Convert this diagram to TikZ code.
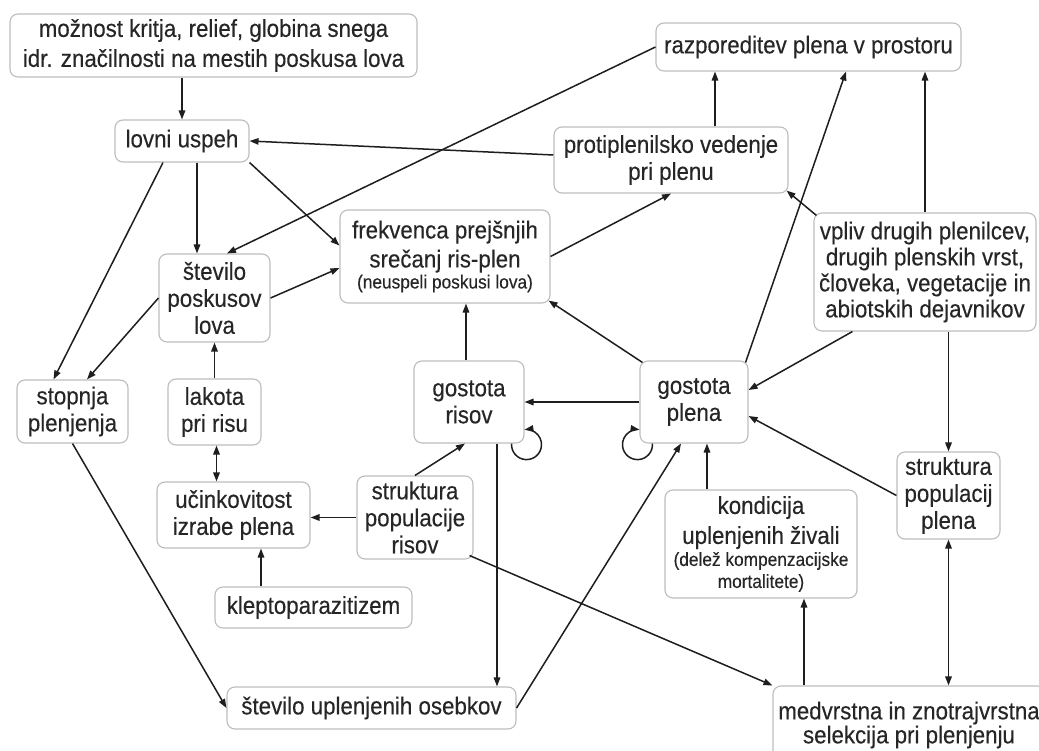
\documentclass[tikz,border=0pt]{standalone}
\usepackage{fontspec}
\setmainfont{Liberation Sans}[FakeStretch=0.91,FakeBold=0.25]
\usetikzlibrary{arrows.meta}
\definecolor{boxline}{HTML}{BDBDBD}
\definecolor{ink}{HTML}{1E1E1E}
\definecolor{txt}{HTML}{262626}
\newcommand\smalltxt{\fontsize{19}{22}\selectfont}
\begin{document}
\begin{tikzpicture}[x=1pt,y=-1pt,
  box/.style={draw=boxline, line width=1.1pt, rounded corners=8pt, fill=white, inner sep=0pt,
    align=center, text=txt, font=\fontsize{24.5}{27}\selectfont},
  arr/.style={draw=ink, line width=1.5pt, -{Triangle[length=9pt,width=6.5pt]}},
  darr/.style={draw=ink, line width=1.5pt, {Triangle[length=9pt,width=6.5pt]}-{Triangle[length=9pt,width=6.5pt]}}]
\useasboundingbox (0,0) rectangle (1039,751);
\fill[white] (0,0) rectangle (1039,751);
\clip (0,0) rectangle (1039,751);

\node[box, minimum width=407pt, minimum height=63pt, font=\fontsize{24.5}{30}\selectfont] (mozn) at (213.5,45.5) {možnost kritja, relief, globina snega\\idr. značilnosti na mestih poskusa lova};
\node[box, minimum width=134pt, minimum height=42pt] (lovni) at (182,141) {lovni uspeh};
\node[box, minimum width=305pt, minimum height=48pt] (razp) at (808.5,47) {razporeditev plena v prostoru};
\node[box, minimum width=234pt, minimum height=66pt] (proti) at (671,160) {protiplenilsko vedenje\\pri plenu};
\node[box, minimum width=210pt, minimum height=93pt] (frek) at (445,256.5) {frekvenca prejšnjih\\[2pt]srečanj ris-plen\\[-6pt]{\smalltxt (neuspeli poskusi lova)}};
\node[box, minimum width=111pt, minimum height=88pt] (stpos) at (214.5,298) {število\\poskusov\\lova};
\node[box, minimum width=222pt, minimum height=118pt, font=\fontsize{24.5}{26}\selectfont] (vpliv) at (925,272) {vpliv drugih plenilcev,\\drugih plenskih vrst,\\človeka, vegetacije in\\abiotskih dejavnikov};
\node[box, minimum width=111pt, minimum height=63pt] (stopnja) at (72.5,411.5) {stopnja\\plenjenja};
\node[box, minimum width=93pt, minimum height=66pt] (lakota) at (214.5,412) {lakota\\pri risu};
\node[box, minimum width=110pt, minimum height=82pt] (gris) at (469,402) {gostota\\risov};
\node[box, minimum width=108pt, minimum height=82pt] (gplena) at (694,402) {gostota\\plena};
\node[box, minimum width=153pt, minimum height=66pt] (uc) at (233.5,515) {učinkovitost\\izrabe plena};
\node[box, minimum width=116pt, minimum height=83pt] (strris) at (415,517.5) {struktura\\populacije\\risov};
\node[box, minimum width=192pt, minimum height=108pt] (kond) at (761,544) {kondicija\\[3pt]uplenjenih živali\\[-5pt]{\smalltxt (delež kompenzacijske}\\[-5pt]{\smalltxt mortalitete)}};
\node[box, minimum width=103pt, minimum height=87pt] (strplena) at (948.5,495.5) {struktura\\populacij\\plena};
\node[box, minimum width=197pt, minimum height=41pt] (klepto) at (313.5,607.5) {kleptoparazitizem};
\node[box, minimum width=289pt, minimum height=42pt] (stupl) at (371.5,708) {število uplenjenih osebkov};
\node[box, minimum width=272pt, minimum height=78pt, font=\fontsize{24.5}{24}\selectfont] (medv) at (909,725) {medvrstna in znotrajvrstna\\selekcija pri plenjenju};

\draw[arr] (lovni.north |- mozn.south) -- (lovni.north);
\draw[arr] ([xshift=15pt]lovni.south) -- ([xshift=15pt]lovni.south |- stpos.north);
\draw[arr] ([xshift=-19pt]lovni.south) -- ([xshift=-19pt]stopnja.north);
\draw[arr] (lovni.south east) -- ([yshift=11pt]frek.west);
\draw[arr] ([yshift=5pt]proti.west) -- (lovni.east);
\draw[arr] (razp.west) -- ([xshift=12.5pt]stpos.north);
\draw[arr] (stpos.west) -- ([xshift=14.5pt]stopnja.north);
\draw[arr] (stpos.east) -- ([yshift=-11.5pt]frek.west);
\draw[arr] (lakota.north) -- (stpos.south);
\draw[darr] ([xshift=2pt]lakota.south) -- ([xshift=2pt]lakota.south |- uc.north);
\draw[arr] ([xshift=-52.5pt]klepto.north) -- ([xshift=-52.5pt]klepto.north |- uc.south);
\draw[arr] (strris.west) -- (strris.west -| uc.east);
\draw[arr] (strris.north) -- ([xshift=-4pt]gris.south);
\draw[arr] ([xshift=28pt]gris.south) -- ([xshift=28pt]gris.south |- stupl.north);
\draw[arr] ([xshift=-3pt]gris.north) -- ([xshift=-3pt]gris.north |- frek.south);
\draw[arr] (gplena.west) -- (gris.east);
\draw[arr] ([xshift=3pt,yshift=-2pt]gplena.north west) -- ([xshift=-2pt,yshift=3pt]frek.south east);
\draw[arr] ([xshift=-3pt,yshift=-2pt]gplena.north east) -- ([xshift=37.5pt]razp.south);
\draw[arr] (frek.east) -- (proti.south);
\draw[arr] ([xshift=44pt]proti.north) -- ([xshift=44pt]proti.north |- razp.south);
\draw[arr] (vpliv.north) -- (vpliv.north |- razp.south);
\draw[arr] ([xshift=3pt,yshift=-3pt]vpliv.north west) -- ([xshift=-2pt,yshift=3pt]proti.south east);
\draw[arr] ([xshift=39pt]vpliv.south west) -- ([yshift=12pt]gplena.east);
\draw[arr] (strplena.north |- vpliv.south) -- (strplena.north);
\draw[arr] (strplena.west) -- ([yshift=-14pt]gplena.east);
\draw[darr] (strplena.south) -- (strplena.south |- medv.north);
\draw[arr] ([xshift=-105pt]medv.north) -- ([xshift=-105pt]medv.north |- kond.south);
\draw[arr] ([xshift=-54pt]kond.north) -- ([xshift=-54pt]kond.north |- gplena.south);
\draw[arr] (stupl.east) -- ([xshift=-13pt]gplena.south);
\draw[arr] ([xshift=-4pt,yshift=4pt]strris.south east) -- (medv.north west);
\draw[arr] (stopnja.south) -- (stupl.west);

\draw[arr] ([xshift=-13pt]gris.south east) arc[start angle=176, end angle=458, radius=15pt];
\draw[arr] ([xshift=13pt]gplena.south west) arc[start angle=4, end angle=-278, radius=15pt];
\end{tikzpicture}
\end{document}
